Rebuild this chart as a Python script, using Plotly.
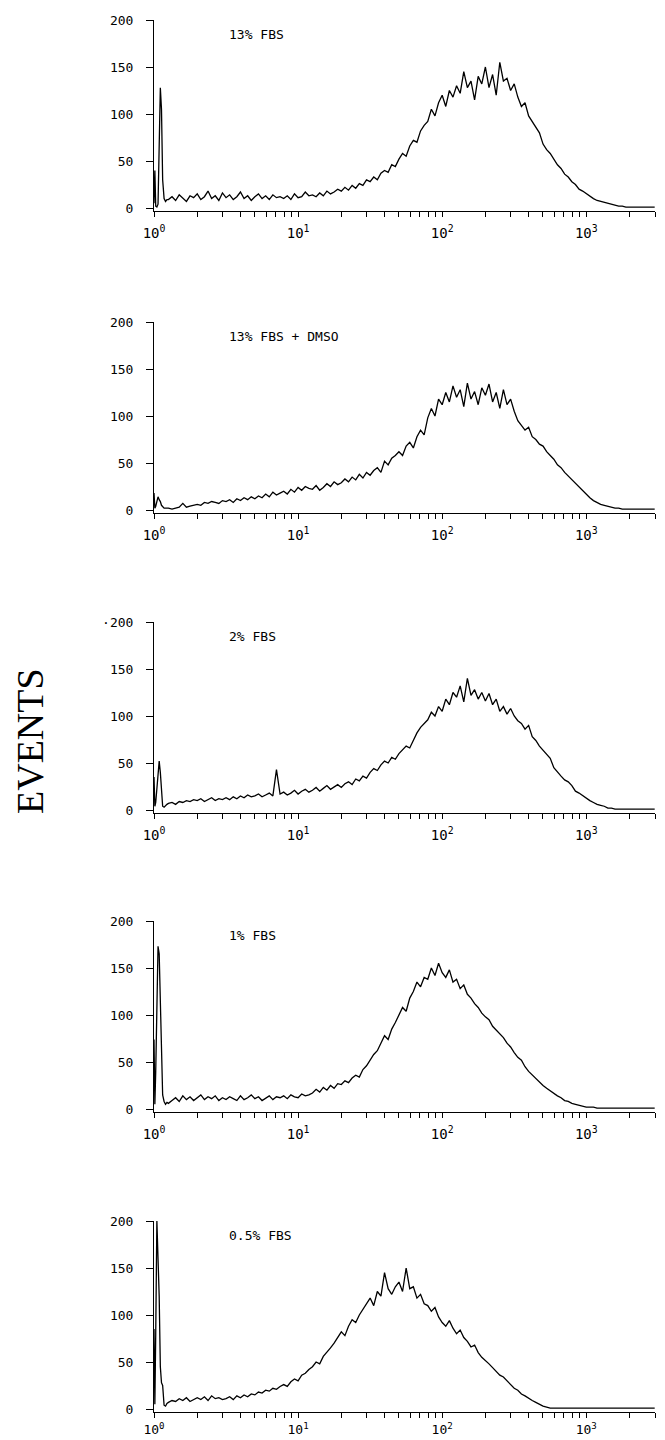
import math
import plotly.graph_objects as go

# ---------------- data ----------------
# histogram bin positions (log10 of fluorescence channel value)
LOG_POS = [
    0.000, 0.006, 0.012, 0.020, 0.028, 0.036, 0.044, 0.052, 0.060, 0.070, 0.080, 0.090,
    0.100, 0.125, 0.150, 0.175, 0.200, 0.225, 0.250, 0.275,
    0.300, 0.325, 0.350, 0.375, 0.400, 0.425, 0.450, 0.475,
    0.500, 0.525, 0.550, 0.575, 0.600, 0.625, 0.650, 0.675,
    0.700, 0.725, 0.750, 0.775, 0.800, 0.825, 0.850, 0.875,
    0.900, 0.925, 0.950, 0.975, 1.000, 1.025, 1.050, 1.075,
    1.100, 1.125, 1.150, 1.175, 1.200, 1.225, 1.250, 1.275,
    1.300, 1.325, 1.350, 1.375, 1.400, 1.425, 1.450, 1.475,
    1.500, 1.525, 1.550, 1.575, 1.600, 1.625, 1.650, 1.675,
    1.700, 1.725, 1.750, 1.775, 1.800, 1.825, 1.850, 1.875,
    1.900, 1.925, 1.950, 1.975, 2.000, 2.025, 2.050, 2.075,
    2.100, 2.125, 2.150, 2.175, 2.200, 2.225, 2.250, 2.275,
    2.300, 2.325, 2.350, 2.375, 2.400, 2.425, 2.450, 2.475,
    2.500, 2.525, 2.550, 2.575, 2.600, 2.625, 2.650, 2.675,
    2.700, 2.725, 2.750, 2.775, 2.800, 2.825, 2.850, 2.875,
    2.900, 2.925, 2.950, 2.975, 3.000, 3.025, 3.050, 3.075,
    3.100, 3.125, 3.150, 3.175, 3.200, 3.225, 3.250, 3.275,
    3.300, 3.325, 3.350, 3.375, 3.400, 3.425, 3.450, 3.475,
]

EVENTS_13_FBS = [
    5, 40, 2, 1, 4, 70, 128, 105, 30, 10, 7, 9,
    9, 12, 8, 14, 10, 7, 13, 11,
    15, 9, 12, 18, 10, 13, 8, 16,
    11, 14, 9, 12, 17, 10, 13, 8,
    12, 15, 10, 13, 9, 14, 11, 12,
    10, 13, 9, 15, 11, 12, 17, 13,
    14, 12, 16, 13, 18, 15, 17, 20,
    18, 22, 19, 24, 21, 26, 24, 30,
    28, 33, 30, 37, 40, 38, 46, 44,
    52, 58, 55, 66, 72, 70, 82, 88,
    92, 105, 98, 112, 120, 108, 125, 118,
    130, 122, 145, 128, 135, 115, 140, 132,
    150, 128, 142, 120, 155, 135, 138, 125,
    132, 118, 108, 112, 98, 92, 85, 80,
    68, 62, 58, 52, 46, 42, 36, 33,
    28, 25, 20, 18, 15, 12, 10, 8,
    7, 6, 5, 4, 3, 2, 2, 1,
    1, 1, 1, 1, 1, 1, 1, 1,
]

EVENTS_13_FBS_DMSO = [
    18, 2, 4, 10, 14, 11, 9, 5, 3, 2, 2, 2,
    2, 1, 2, 3, 7, 3, 4, 5,
    6, 5, 8, 7, 9, 8, 7, 10,
    9, 11, 8, 12, 10, 13, 11, 14,
    12, 15, 13, 17, 14, 19, 16, 18,
    20, 17, 22, 19, 24, 21, 25, 23,
    22, 26, 21, 24, 28, 25, 30, 27,
    29, 33, 30, 35, 32, 38, 34, 40,
    37, 42, 45, 40, 52, 48, 55, 58,
    62, 58, 68, 72, 66, 78, 85, 80,
    98, 108, 100, 118, 112, 125, 115, 132,
    120, 128, 110, 135, 118, 126, 112, 130,
    122, 134, 115, 125, 108, 128, 112, 118,
    105, 95, 90, 85, 88, 78, 75, 70,
    68, 62, 58, 54, 48, 45, 40, 36,
    32, 28, 25, 20, 16, 13, 10, 8,
    6, 5, 4, 3, 2, 2, 1, 1,
    1, 1, 1, 1, 1, 1, 1, 1,
]

EVENTS_2_FBS = [
    35, 4, 8, 25, 45, 52, 40, 15, 4, 3, 5, 6,
    7, 8, 6, 9, 8, 10, 9, 11,
    10, 12, 9, 11, 13, 10, 12, 11,
    13, 11, 14, 12, 15, 13, 16, 14,
    15, 17, 14, 16, 18, 15, 43, 17,
    19, 16, 18, 21, 17, 20, 22, 19,
    21, 24, 20, 23, 26, 22, 25, 27,
    24, 28, 30, 27, 33, 31, 36, 34,
    40, 44, 42, 48, 52, 50, 56, 54,
    60, 64, 68, 66, 75, 82, 88, 92,
    96, 104, 100, 110, 105, 118, 112, 125,
    120, 132, 115, 140, 122, 128, 118, 125,
    116, 124, 112, 118, 105, 110, 102, 108,
    100, 95, 92, 86, 90, 78, 74, 68,
    64, 60, 55, 45, 40, 36, 32, 30,
    26, 20, 18, 15, 12, 10, 8, 6,
    5, 4, 2, 2, 1, 1, 1, 1,
    1, 1, 1, 1, 1, 1, 1, 1,
]

EVENTS_1_FBS = [
    74, 5, 40, 130, 173, 165, 110, 60, 15, 8, 5, 7,
    6, 9, 12, 8, 14, 10, 13, 9,
    12, 15, 10, 13, 11, 14, 9, 12,
    10, 13, 11, 9, 14, 10, 12, 15,
    11, 13, 9, 12, 14, 10, 13, 12,
    14, 11, 15, 13, 12, 16, 14, 15,
    17, 21, 18, 23, 20, 25, 22, 27,
    26, 30, 28, 33, 36, 34, 42, 46,
    52, 58, 62, 70, 78, 74, 85, 92,
    100, 108, 104, 118, 125, 135, 130, 140,
    138, 150, 142, 155, 145, 140, 148, 135,
    138, 128, 132, 122, 118, 112, 108, 102,
    98, 95, 88, 84, 80, 76, 70, 66,
    60, 55, 52, 45, 40, 36, 32, 28,
    25, 22, 19, 17, 14, 12, 9, 8,
    6, 5, 4, 3, 2, 2, 2, 1,
    1, 1, 1, 1, 1, 1, 1, 1,
    1, 1, 1, 1, 1, 1, 1, 1,
]

EVENTS_05_FBS = [
    85, 5, 80, 200, 160, 120, 45, 28, 25, 4, 3, 6,
    7, 9, 8, 11, 9, 12, 8, 10,
    12, 10, 13, 9, 14, 11, 12, 10,
    11, 13, 10, 14, 12, 15, 13, 16,
    15, 18, 17, 20, 19, 22, 21, 24,
    26, 24, 29, 32, 30, 36, 38, 42,
    45, 50, 48, 56, 60, 65, 70, 76,
    82, 78, 88, 95, 92, 100, 106, 112,
    118, 110, 125, 120, 145, 128, 122, 130,
    135, 125, 150, 128, 130, 118, 122, 112,
    110, 104, 108, 98, 92, 88, 94, 86,
    80, 84, 76, 72, 66, 68, 60, 55,
    52, 48, 44, 40, 36, 34, 30, 26,
    22, 20, 16, 14, 11, 9, 7, 5,
    3, 2, 1, 1, 1, 1, 1, 1,
    1, 1, 1, 1, 1, 1, 1, 1,
    1, 1, 1, 1, 1, 1, 1, 1,
    1, 1, 1, 1, 1, 1, 1, 1,
]

PANEL_LABELS = ["13% FBS", "13% FBS + DMSO", "2% FBS", "1% FBS", "0.5% FBS"]
SERIES = [EVENTS_13_FBS, EVENTS_13_FBS_DMSO, EVENTS_2_FBS, EVENTS_1_FBS, EVENTS_05_FBS]

Y_TICKS = [0, 50, 100, 150, 200]
Y_TICKTEXT = [
    ["0", "50", "100", "150", "200"],
    ["0", "50", "100", "150", "200"],
    ["0", "50", "100", "150", "\u00b7200"],
    ["0", "50", "100", "150", "200"],
    ["0", "50", "100", "150", "200"],
]
X_MAJOR_TICKS = [1, 10, 100, 1000]
X_MAJOR_TICKTEXT = ["10<sup>0</sup>", "10<sup>1</sup>", "10<sup>2</sup>", "10<sup>3</sup>"]
X_MINOR_TICKS = [2, 3, 4, 5, 6, 7, 8, 9,
                 20, 30, 40, 50, 60, 70, 80, 90,
                 200, 300, 400, 500, 600, 700, 800, 900,
                 2000, 3000]
X_MAX = 3000
Y_TITLE = "EVENTS"

# ---------------- figure ----------------
# the page body has an 8 px default margin, so the figure is 8 px smaller
OFF = 8
W, H = 665 - OFF, 1440 - OFF
PLOT_LEFT = 154 - OFF
PANEL_TOPS = [t - OFF for t in (20, 322, 622, 921, 1221)]   # pixel row of the 200 level
PX_PER_UNIT = 0.94
Y_MIN, Y_MAX = -3, 200
MONO = "DejaVu Sans Mono"

X_VALUES = [10 ** p for p in LOG_POS]

fig = go.Figure()
layout = dict(
    template="none",
    width=W, height=H,
    margin=dict(l=PLOT_LEFT, r=10, t=0, b=0, autoexpand=False),
    paper_bgcolor="white", plot_bgcolor="white",
    showlegend=False,
    font=dict(family=MONO, size=12, color="black"),
)
plot_w = W - PLOT_LEFT - 10
annotations = []
for i, (vals, label) in enumerate(zip(SERIES, PANEL_LABELS)):
    n = i + 1
    xa = "x" if n == 1 else f"x{n}"
    ya = "y" if n == 1 else f"y{n}"
    fig.add_trace(go.Scatter(
        x=X_VALUES, y=vals, mode="lines", xaxis=xa, yaxis=ya,
        line=dict(color="black", width=1.3), hoverinfo="skip",
    ))
    top = PANEL_TOPS[i]
    bottom = top + (Y_MAX - Y_MIN) * PX_PER_UNIT
    dom = [1 - bottom / H, 1 - top / H]
    layout["xaxis" if n == 1 else f"xaxis{n}"] = dict(
        type="log", range=[0, math.log10(X_MAX)], domain=[0, 1], anchor=ya,
        tickvals=X_MAJOR_TICKS, ticktext=X_MAJOR_TICKTEXT,
        ticks="outside", ticklen=5, tickwidth=1, tickcolor="black",
        minor=dict(tickvals=X_MINOR_TICKS, ticks="outside", ticklen=5,
                   tickwidth=1, tickcolor="black", showgrid=False),
        showline=True, linecolor="black", linewidth=1,
        showgrid=False, zeroline=False, automargin=False,
        tickfont=dict(family=MONO, size=14 if n < 5 else 13, color="black"),
        ticklabelstandoff=4 if n < 5 else 1,
    )
    layout["yaxis" if n == 1 else f"yaxis{n}"] = dict(
        range=[Y_MIN, Y_MAX], domain=dom, anchor=xa,
        tickvals=Y_TICKS, ticktext=Y_TICKTEXT[i], ticks="outside", ticklen=7,
        tickwidth=1, tickcolor="black", showline=True, linecolor="black",
        linewidth=1, showgrid=False, zeroline=False, automargin=False,
        tickfont=dict(family=MONO, size=13, color="black"),
        ticklabelstandoff=10,
    )
    annotations.append(dict(
        text=label, xref=f"{xa} domain", yref=ya,
        x=(227 - 154) / plot_w, y=185,
        xanchor="left", yanchor="middle", showarrow=False,
        font=dict(family=MONO, size=13, color="black"),
    ))

annotations.append(dict(
    text=Y_TITLE, xref="paper", yref="paper",
    x=((30 - OFF) - PLOT_LEFT) / plot_w, y=1 - (741 - OFF) / H,
    xanchor="center", yanchor="middle", textangle=-90, showarrow=False,
    font=dict(family="Liberation Serif", size=38, color="black"),
))
layout["annotations"] = annotations
fig.update_layout(**layout)
fig.write_html("out.html")
